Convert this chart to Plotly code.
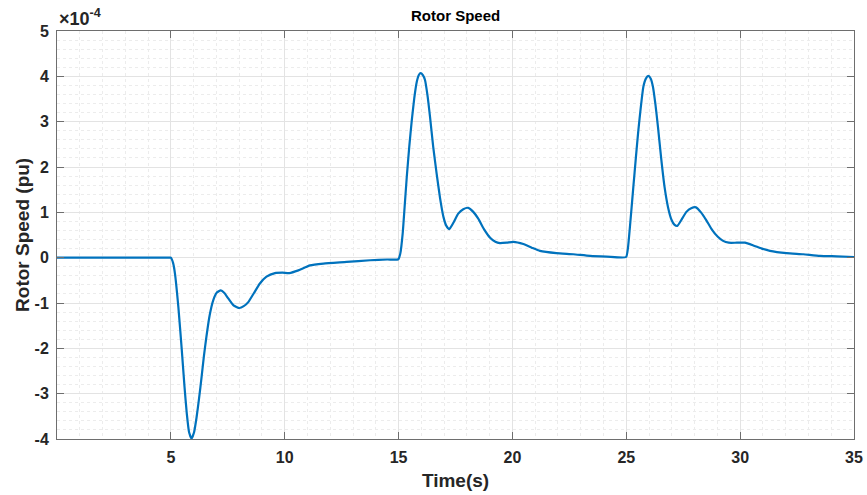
import plotly.graph_objects as go

# Time (s) and rotor speed (in units of 1e-4 pu)
time_s = [0, 1, 2, 3, 4, 4.9, 5.0, 5.1, 5.18, 5.33, 5.48, 5.60, 5.70, 5.80, 5.91, 6.02, 6.13,
          6.24, 6.35, 6.45, 6.56, 6.70, 6.86, 7.02, 7.19, 7.35, 7.52, 7.75, 8.01, 8.20, 8.40,
          8.65, 8.91, 9.2, 9.57, 9.9, 10.2, 10.6, 11.11, 11.70, 12.72, 13.75, 14.5, 14.99,
          15.08, 15.18, 15.27, 15.36, 15.47, 15.58, 15.69, 15.80, 15.89, 15.97, 16.06, 16.16,
          16.27, 16.38, 16.52, 16.67, 16.82, 16.97, 17.10, 17.23, 17.42, 17.62, 17.84, 18.06,
          18.28, 18.50, 18.75, 19.02, 19.25, 19.45, 19.75, 20.04, 20.48, 20.85, 21.21, 21.93,
          22.67, 23.41, 24.14, 24.99, 25.07, 25.16, 25.31, 25.42, 25.53, 25.64, 25.75, 25.86,
          25.97, 26.07, 26.17, 26.28, 26.39, 26.53, 26.68, 26.83, 26.99, 27.11, 27.24, 27.44,
          27.64, 27.85, 28.06, 28.28, 28.51, 28.76, 29.02, 29.25, 29.50, 29.85, 30.21, 30.58,
          30.95, 31.31, 32.04, 32.77, 33.51, 34.24, 35.0]
speed_e4 = [0, 0, 0, 0, 0, 0, 0, -0.12, -0.35, -1.09, -2.04, -2.85, -3.44, -3.85, -3.99, -3.85,
            -3.52, -3.10, -2.63, -2.18, -1.75, -1.28, -0.94, -0.77, -0.72, -0.78, -0.90, -1.05,
            -1.11, -1.07, -0.98, -0.78, -0.57, -0.42, -0.34, -0.33, -0.34, -0.28, -0.17, -0.13,
            -0.095, -0.057, -0.04, -0.035, 0.10, 0.53, 1.15, 1.78, 2.45, 3.03, 3.52, 3.88, 4.03,
            4.07, 4.03, 3.92, 3.58, 3.11, 2.45, 1.86, 1.32, 0.90, 0.70, 0.63, 0.78, 0.97, 1.07,
            1.10, 1.01, 0.86, 0.63, 0.44, 0.35, 0.32, 0.33, 0.35, 0.30, 0.22, 0.15, 0.10, 0.075,
            0.04, 0.025, 0.015, 0.20, 0.68, 1.56, 2.20, 2.81, 3.33, 3.77, 3.95, 4.01, 3.95, 3.77,
            3.38, 2.89, 2.20, 1.56, 1.12, 0.83, 0.73, 0.70, 0.85, 1.01, 1.09, 1.11, 1.00, 0.83,
            0.62, 0.46, 0.37, 0.33, 0.33, 0.33, 0.27, 0.20, 0.15, 0.10, 0.075, 0.04, 0.03, 0.015]

x_ticks = [5, 10, 15, 20, 25, 30, 35]
y_ticks = [-4, -3, -2, -1, 0, 1, 2, 3, 4, 5]
y_ticktext = [str(v) for v in y_ticks]  # plain hyphen minus as in MATLAB

FONT = "Liberation Sans, Arial, sans-serif"
TXT = "#262626"
AX = "#6e6e6e"

fig = go.Figure()
fig.add_trace(go.Scatter(x=time_s, y=speed_e4, mode="lines",
                         line=dict(color="#0072BD", width=2.2, shape="spline", smoothing=0.5),
                         hoverinfo="skip"))

axis_common = dict(
    showline=True, linecolor=AX, linewidth=1, mirror="ticks",
    ticks="inside", ticklen=7, tickcolor=AX, tickwidth=1,
    showgrid=True, gridcolor="#e3e3e3", gridwidth=1,
    zeroline=False, automargin=False,
    tickfont=dict(family=FONT, size=16, color=TXT, weight="bold"),
)

fig.update_xaxes(range=[0, 35], tickvals=x_ticks, ticklabelstandoff=4,
                 title=dict(text="<b>Time(s)</b>", font=dict(family=FONT, size=19, color=TXT), standoff=8),
                 minor=dict(dtick=1, tick0=0, showgrid=True, gridcolor="#ececec", griddash="dot", ticks=""),
                 **axis_common)
fig.update_yaxes(range=[-4, 5], tickvals=y_ticks, ticktext=y_ticktext, ticklabelstandoff=4,
                 minor=dict(dtick=0.2, tick0=0, showgrid=True, gridcolor="#ececec", griddash="dot", ticks=""),
                 **axis_common)

fig.update_layout(
    width=867, height=495,
    margin=dict(l=57, r=13, t=31, b=56),
    paper_bgcolor="white", plot_bgcolor="white",
    showlegend=False,
    title=dict(text="<b>Rotor Speed</b>", x=0.5255, xanchor="center", y=0.968, yanchor="middle",
               font=dict(family=FONT, size=15, color="black")),
    annotations=[
        dict(text="<b>×10<sup>-4</sup></b>", xref="paper", yref="paper",
             x=0.0, y=1.0, xanchor="left", yanchor="bottom", yshift=0, showarrow=False,
             font=dict(family=FONT, size=18, color=TXT)),
        dict(text="<b>Rotor Speed (pu)</b>", xref="paper", yref="paper",
             x=-0.044, y=0.5, xanchor="center", yanchor="middle", textangle=-90, showarrow=False,
             font=dict(family=FONT, size=19, color=TXT)),
    ],
)

fig.write_html("out.html")
